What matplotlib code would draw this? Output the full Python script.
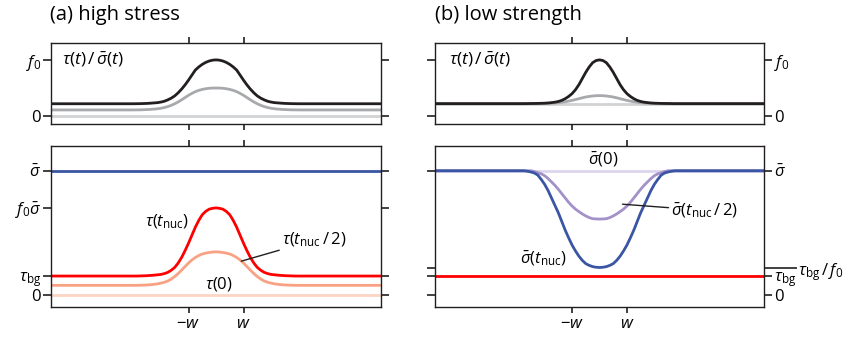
import numpy as np
import matplotlib
matplotlib.use("Agg")
import matplotlib.pyplot as plt

plt.rcParams['font.family'] = ['Open Sans', 'DejaVu Sans']
plt.rcParams['mathtext.fontset'] = 'custom'
plt.rcParams['mathtext.rm'] = 'Open Sans'
plt.rcParams['mathtext.it'] = 'Open Sans:italic'
plt.rcParams['mathtext.bf'] = 'Open Sans:bold'

# Position along fault, in units of w
x = [-6, -3, -2.875, -2.75, -2.625, -2.5, -2.375, -2.25, -2.125, -2, -1.875, -1.75, -1.625,
     -1.5, -1.375, -1.25, -1.125, -1, -0.875, -0.75, -0.625, -0.5, -0.375, -0.25, -0.125, 0,
     0.125, 0.25, 0.375, 0.5, 0.625, 0.75, 0.875, 1, 1.125, 1.25, 1.375, 1.5, 1.625, 1.75,
     1.875, 2, 2.125, 2.25, 2.375, 2.5, 2.625, 2.75, 2.875, 3, 6]

# (a) high stress, upper panel: tau/sigma in units of f0
ratio_a_nuc = [0.22, 0.22, 0.221, 0.222, 0.224, 0.226, 0.23, 0.235, 0.24, 0.25, 0.265, 0.29, 0.32,
               0.36, 0.415, 0.48, 0.555, 0.64, 0.73, 0.82, 0.875, 0.92, 0.955, 0.98, 0.995, 1.0,
               0.995, 0.98, 0.955, 0.92, 0.875, 0.82, 0.73, 0.64, 0.555, 0.48, 0.415, 0.36, 0.32,
               0.29, 0.265, 0.25, 0.24, 0.235, 0.23, 0.226, 0.224, 0.222, 0.221, 0.22, 0.22]
ratio_a_half = [0.11, 0.11, 0.111, 0.112, 0.114, 0.117, 0.12, 0.125, 0.131, 0.14, 0.153, 0.17, 0.192,
                0.22, 0.253, 0.29, 0.33, 0.37, 0.405, 0.435, 0.458, 0.475, 0.487, 0.495, 0.499, 0.50,
                0.499, 0.495, 0.487, 0.475, 0.458, 0.435, 0.405, 0.37, 0.33, 0.29, 0.253, 0.22, 0.192,
                0.17, 0.153, 0.14, 0.131, 0.125, 0.12, 0.117, 0.114, 0.112, 0.111, 0.11, 0.11]
ratio_a_zero = 0.005

# (a) lower panel: stresses in units of sigma-bar
tau_a_nuc = [0.15, 0.15, 0.15, 0.151, 0.152, 0.153, 0.155, 0.157, 0.16, 0.163, 0.17, 0.18, 0.197,
             0.22, 0.255, 0.30, 0.355, 0.415, 0.48, 0.545, 0.60, 0.645, 0.672, 0.69, 0.697, 0.70,
             0.697, 0.69, 0.672, 0.645, 0.60, 0.545, 0.48, 0.415, 0.355, 0.30, 0.255, 0.22, 0.197,
             0.18, 0.17, 0.163, 0.16, 0.157, 0.155, 0.153, 0.152, 0.151, 0.15, 0.15, 0.15]
tau_a_half = [0.075, 0.075, 0.075, 0.076, 0.077, 0.078, 0.08, 0.083, 0.087, 0.093, 0.1, 0.11, 0.126,
              0.146, 0.17, 0.198, 0.227, 0.255, 0.28, 0.30, 0.316, 0.328, 0.335, 0.34, 0.344, 0.345,
              0.344, 0.34, 0.335, 0.328, 0.316, 0.30, 0.28, 0.255, 0.227, 0.198, 0.17, 0.146, 0.126,
              0.11, 0.1, 0.093, 0.087, 0.083, 0.08, 0.078, 0.077, 0.076, 0.075, 0.075, 0.075]
tau_a_zero = 0.0
sigma_a = 1.0

# (b) low strength, upper panel
ratio_b_nuc = [0.222, 0.222, 0.222, 0.222, 0.223, 0.224, 0.225, 0.226, 0.228, 0.23, 0.234, 0.24, 0.248,
               0.26, 0.28, 0.31, 0.35, 0.40, 0.47, 0.56, 0.67, 0.78, 0.875, 0.95, 0.988, 1.0,
               0.988, 0.95, 0.875, 0.78, 0.67, 0.56, 0.47, 0.40, 0.35, 0.31, 0.28, 0.26, 0.248,
               0.24, 0.234, 0.23, 0.228, 0.226, 0.225, 0.224, 0.223, 0.222, 0.222, 0.222, 0.222]
ratio_b_half = [0.222, 0.222, 0.222, 0.222, 0.222, 0.222, 0.222, 0.222, 0.223, 0.224, 0.226, 0.229, 0.233,
                0.238, 0.246, 0.255, 0.267, 0.28, 0.295, 0.31, 0.326, 0.34, 0.35, 0.358, 0.363, 0.365,
                0.363, 0.358, 0.35, 0.34, 0.326, 0.31, 0.295, 0.28, 0.267, 0.255, 0.246, 0.238, 0.233,
                0.229, 0.226, 0.224, 0.223, 0.222, 0.222, 0.222, 0.222, 0.222, 0.222, 0.222, 0.222]
ratio_b_zero = 0.215

# (b) lower panel
sigma_b_nuc = [1.0, 1.0, 1.0, 1.0, 0.996, 0.99, 0.982, 0.965, 0.93, 0.89, 0.84, 0.78, 0.72,
               0.66, 0.59, 0.52, 0.458, 0.40, 0.352, 0.31, 0.276, 0.25, 0.236, 0.226, 0.221, 0.219,
               0.221, 0.226, 0.236, 0.25, 0.276, 0.31, 0.352, 0.40, 0.458, 0.52, 0.59, 0.66, 0.72,
               0.78, 0.84, 0.89, 0.93, 0.965, 0.982, 0.99, 0.996, 1.0, 1.0, 1.0, 1.0]
sigma_b_half = [1.0, 1.0, 1.0, 1.0, 1.0, 1.0, 0.994, 0.985, 0.975, 0.96, 0.937, 0.91, 0.882,
                0.85, 0.815, 0.78, 0.745, 0.715, 0.69, 0.67, 0.651, 0.635, 0.622, 0.613, 0.611, 0.61,
                0.611, 0.613, 0.622, 0.635, 0.651, 0.67, 0.69, 0.715, 0.745, 0.78, 0.815, 0.85, 0.882,
                0.91, 0.937, 0.96, 0.975, 0.985, 0.994, 1.0, 1.0, 1.0, 1.0, 1.0, 1.0]
sigma_b_zero = 1.0
tau_b = 0.15

# tick positions
f0 = 0.7
tau_bg = 0.15
tau_bg_f0 = 0.215
w_ticks = [-1, 1]

dark = '#231f20'
lw = 2.0
fs = 12
PX = 72 / 100  # points per pixel

fig = plt.figure(figsize=(8.51, 3.37), dpi=100)
W, H = 851, 337


def make_ax(x0, y0, x1, y1):
    return fig.add_axes([x0 / W, 1 - y1 / H, (x1 - x0) / W, (y1 - y0) / H])


def style(ax, ylim):
    ax.set_xlim(-6, 6)
    ax.set_ylim(*ylim)
    for s in ax.spines.values():
        s.set_color(dark)
        s.set_linewidth(1.0)
    ax.set_xticks(w_ticks)
    ax.tick_params(axis='x', which='both', direction='out', length=6 * PX, width=1.2, color=dark,
                   top=True, bottom=True, labelbottom=False, labelsize=fs, pad=2)
    ax.tick_params(axis='y', which='both', direction='out', length=8 * PX, width=1.2, color=dark,
                   left=True, right=True, labelsize=fs, pad=1.5)


axA1 = make_ax(51, 43, 381, 124)
axA2 = make_ax(51, 146, 381, 307)
axB1 = make_ax(435, 43, 764, 124)
axB2 = make_ax(435, 146, 764, 307)

# (a) upper
style(axA1, (-0.14, 1.30))
axA1.axhline(ratio_a_zero, color='#d1d3d4', lw=lw)
axA1.plot(x, ratio_a_half, color='#a7a9ac', lw=lw)
axA1.plot(x, ratio_a_nuc, color=dark, lw=lw)
axA1.set_yticks([0, 1])
axA1.set_yticklabels(['0', r'$f_0$'])
axA1.tick_params(axis='y', labelleft=True, labelright=False)
axA1.text(-5.6, 1.0, r'$\tau(t)\,/\,\bar{\sigma}(t)$', fontsize=12.5, va='center', ha='left')

# (a) lower
style(axA2, (-0.10, 1.20))
axA2.axhline(tau_a_zero, color='#fcd5c4', lw=lw)
axA2.plot(x, tau_a_half, color='#f9a283', lw=lw)
axA2.plot(x, tau_a_nuc, color='#ff0000', lw=lw)
axA2.axhline(sigma_a, color='#3a55a4', lw=lw)
axA2.set_yticks([0, tau_bg, f0, 1])
axA2.set_yticklabels(['0', r'$\tau_{\rm bg}$', r'$f_0\bar{\sigma}$', r'$\bar{\sigma}$'])
axA2.tick_params(axis='y', labelleft=True, labelright=False)
axA2.tick_params(axis='x', labelbottom=True)
axA2.set_xticklabels([r'$-w$', r'$w$'])
axA2.text(-1.0, 0.59, r'$\tau(t_{\rm nuc})$', fontsize=fs, ha='right', va='center')
axA2.annotate(r'$\tau(t_{\rm nuc}\,/\,2)$', xy=(0.92, 0.27), xytext=(2.4, 0.44),
              fontsize=fs, ha='left', va='center',
              arrowprops=dict(arrowstyle='-', color=dark, lw=1.0, shrinkA=0, shrinkB=0))
axA2.text(0.1, 0.085, r'$\tau(0)$', fontsize=fs, ha='center', va='center')

# (b) upper
style(axB1, (-0.14, 1.30))
axB1.axhline(ratio_b_zero, color='#d1d3d4', lw=lw)
axB1.plot(x, ratio_b_half, color='#a7a9ac', lw=lw)
axB1.plot(x, ratio_b_nuc, color=dark, lw=lw)
axB1.set_yticks([0, 1])
axB1.set_yticklabels(['0', r'$f_0$'])
axB1.tick_params(axis='y', labelleft=False, labelright=True)
axB1.text(-5.5, 1.0, r'$\tau(t)\,/\,\bar{\sigma}(t)$', fontsize=12.5, va='center', ha='left')

# (b) lower
style(axB2, (-0.10, 1.20))
axB2.axhline(sigma_b_zero, color='#ddd6ee', lw=lw)
axB2.plot(x, sigma_b_half, color='#a391c9', lw=lw)
axB2.plot(x, sigma_b_nuc, color='#3a55a4', lw=lw)
axB2.axhline(tau_b, color='#ff0000', lw=lw)
axB2.set_yticks([0, tau_bg, tau_bg_f0, 1])
axB2.tick_params(axis='y', right=False, labelleft=False, labelright=False)
axB2.tick_params(axis='x', labelbottom=True)
axB2.set_xticklabels([r'$-w$', r'$w$'])

# right-hand ticks of (b) lower, with the long tau_bg/f0 tick
axB2r = axB2.twinx()
axB2r.set_ylim(axB2.get_ylim())
for s in axB2r.spines.values():
    s.set_visible(False)
axB2r.set_yticks([0, tau_bg, 1])
axB2r.set_yticklabels(['0', r'$\tau_{\rm bg}$', r'$\bar{\sigma}$'])
axB2r.set_yticks([tau_bg_f0], minor=True)
axB2r.set_yticklabels([r'$\tau_{\rm bg}\,/\,f_0$'], minor=True)
axB2r.tick_params(axis='y', which='both', direction='out', length=8 * PX, width=1.2, color=dark,
                  labelsize=fs, pad=1.5)
axB2r.tick_params(axis='y', which='minor', length=33 * PX, pad=1)
for lab in axB2r.get_yticklabels():
    if 'bg' in lab.get_text():
        lab.set_va('center_baseline')

axB2.text(0.12, 1.09, r'$\bar{\sigma}(0)$', fontsize=fs, ha='center', va='center')
axB2.annotate(r'$\bar{\sigma}(t_{\rm nuc}\,/\,2)$', xy=(0.84, 0.73), xytext=(2.62, 0.68),
              fontsize=fs, ha='left', va='center',
              arrowprops=dict(arrowstyle='-', color=dark, lw=1.0, shrinkA=0, shrinkB=0))
axB2.text(-1.2, 0.29, r'$\bar{\sigma}(t_{\rm nuc})$', fontsize=fs, ha='right', va='center')

fig.text(50 / W, 1 - 15 / H, '(a) high stress', fontsize=14.5, ha='left', va='center')
fig.text(435 / W, 1 - 15 / H, '(b) low strength', fontsize=14.5, ha='left', va='center')

fig.savefig('out.png', dpi=100)
